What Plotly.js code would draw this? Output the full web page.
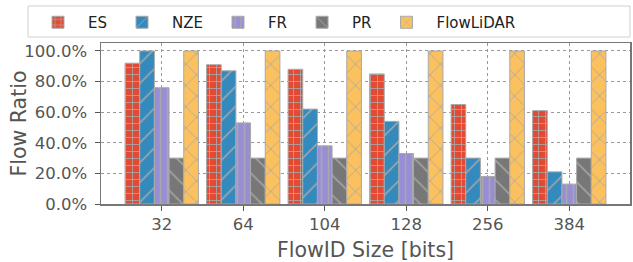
<!DOCTYPE html>
<html><head><meta charset="utf-8">
<script src="https://cdn.plot.ly/plotly-3.0.1.min.js"></script>
<style>html,body{margin:0;padding:0;background:#fff}#chart{width:633px;height:262px}</style>
</head><body><div id="chart"></div>
<script>
const categories = ["32", "64", "104", "128", "256", "384"];
const seriesNames = ["ES", "NZE", "FR", "PR", "FlowLiDAR"];
const ES = [0.92, 0.91, 0.88, 0.85, 0.65, 0.61];
const NZE = [1.00, 0.87, 0.62, 0.54, 0.30, 0.21];
const FR = [0.76, 0.53, 0.38, 0.33, 0.18, 0.13];
const PR = [0.30, 0.30, 0.30, 0.30, 0.30, 0.30];
const FlowLiDAR = [1.00, 1.00, 1.00, 1.00, 1.00, 1.00];
const yTicks = [0, 0.2, 0.4, 0.6, 0.8, 1.0];
const yTickLabels = ["0.0%", "20.0%", "40.0%", "60.0%", "80.0%", "100.0%"];

const values = [ES, NZE, FR, PR, FlowLiDAR];
const colors = ["#E24A33", "#348ABD", "#988ED5", "#777777", "#FBC15E"];
const shapes = ["+", "/", "|", "\\", "x"];
const sizes = [7, 14, 7, 14, 15];
const solid = [0.22, 0.11, 0.22, 0.11, 0.11];
const hatch = "#A9A9A9";

const traces = values.map((v, i) => ({
  type: "bar",
  name: seriesNames[i],
  x: categories,
  y: v,
  marker: {
    color: colors[i],
    line: {color: hatch, width: 1},
    pattern: {shape: shapes[i], fgcolor: hatch, bgcolor: colors[i], size: sizes[i], solidity: solid[i], fillmode: "replace"}
  },
  hoverinfo: "skip"
}));

const font = "DejaVu Sans, sans-serif";
const W = 633, H = 262, L = 101, R = 3, T = 43, B = 58;
const pw = W - L - R, ph = H - T - B;
const layout = {
  width: W, height: H,
  margin: {l: L, r: R, t: T, b: B},
  paper_bgcolor: "#fff", plot_bgcolor: "#fff",
  barmode: "group", bargap: 0.1, bargroupgap: 0,
  font: {family: font, color: "#555", size: 16.5},
  showlegend: true,
  legend: {
    orientation: "h", xref: "container", yref: "container",
    x: 28/W, xanchor: "left", y: 1 - 6/H, yanchor: "top",
    borderwidth: 0, bgcolor: "rgba(0,0,0,0)",
    font: {family: font, size: 15, color: "#222"},
    itemwidth: 50, traceorder: "normal"
  },
  shapes: [{
    type: "rect", xref: "paper", yref: "paper", layer: "above",
    x0: (28 - L) / pw, x1: (630 - L) / pw,
    y0: (H - B - 37) / ph, y1: (H - B - 6) / ph,
    line: {color: "#d0d0d0", width: 1}, fillcolor: "#fff"
  }],
  annotations: [{
    text: "Flow Ratio", xref: "paper", yref: "paper",
    x: (18 - L) / pw, y: 0.5, xanchor: "center", yanchor: "middle",
    textangle: -90, showarrow: false,
    font: {family: font, size: 20.5, color: "#555"}
  }],
  xaxis: {
    type: "category", range: [-0.745, 5.745],
    showline: true, linecolor: "#777", linewidth: 1.5, mirror: true,
    ticks: "outside", ticklen: 5, tickcolor: "#555", tickwidth: 1,
    showgrid: true, gridcolor: "#999", griddash: "dot", gridwidth: 1,
    tickfont: {size: 16.5, color: "#555"},
    title: {text: "FlowID Size [bits]", font: {size: 20.5, color: "#555"}, standoff: 11},
    zeroline: false
  },
  yaxis: {
    range: [0, 1.052],
    tickvals: yTicks, ticktext: yTickLabels,
    showline: true, linecolor: "#777", linewidth: 1.5, mirror: true,
    ticks: "outside", ticklen: 5, tickcolor: "#555", tickwidth: 1,
    ticklabelstandoff: 4,
    showgrid: true, gridcolor: "#999", griddash: "dot", gridwidth: 1,
    tickfont: {size: 16.5, color: "#555"},
    zeroline: false
  }
};
Plotly.newPlot("chart", traces, layout, {displayModeBar: false, staticPlot: true});
</script></body></html>
